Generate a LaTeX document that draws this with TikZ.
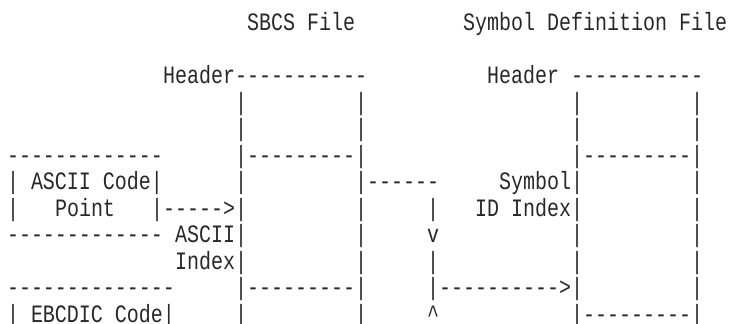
\documentclass[tikz,border=0pt]{standalone}
\usepackage{fontspec}
\usepackage{xcolor}
\usepackage{tikz}
\newfontfamily\asciifont{Liberation Mono}[FakeStretch=0.8]
\definecolor{ink}{RGB}{40, 40, 40}
\tikzset{cell/.style={anchor=base west, inner sep=0pt, outer sep=0pt, text=ink,
    font=\asciifont\fontsize{25}{30}\selectfont}}

\begin{document}
\begin{tikzpicture}[x=12pt, y=-26.5pt]
    \useasboundingbox (0pt, 0pt) rectangle (729pt, -324pt);
    \begin{scope}[shift={(7pt, -30.8pt)}]
    % 标题
    \foreach \c/\t in {20/SBCS File, 38/Symbol Definition File} {
        \node[cell] (r0-\c) at (\c, 0) {\t};
    }

    % Header
    \foreach \c/\t in {13/Header-----------, 40/Header -----------} {
        \node[cell] (r2-\c) at (\c, 2) {\t};
    }
    \foreach \r in {3, 4} {
        \foreach \c in {19, 29, 47, 57} {
            \node[cell] (r\r-\c) at (\c, \r) {|};
        }
    }

    % ASCII Code Point
    \foreach \c/\t in {0/-------------, 19/|---------|, 47/|---------|} {
        \node[cell] (r5-\c) at (\c, 5) {\t};
    }
    \foreach \c/\t in {0/| ASCII Code|, 19/|, 29/|------, 41/Symbol|, 57/|} {
        \node[cell] (r6-\c) at (\c, 6) {\t};
    }
    \foreach \c/\t in {0/|, 4/Point, 12/|----->|, 29/|, 35/|, 39/ID Index|, 57/|} {
        \node[cell] (r7-\c) at (\c, 7) {\t};
    }
    \foreach \c/\t in {0/-------------, 14/ASCII|, 29/|, 35/v, 47/|, 57/|} {
        \node[cell] (r8-\c) at (\c, 8) {\t};
    }
    \foreach \c/\t in {14/Index|, 29/|, 35/|, 47/|, 57/|} {
        \node[cell] (r9-\c) at (\c, 9) {\t};
    }

    % EBCDIC Code Point
    \foreach \c/\t in {0/--------------, 19/|---------|, 35/|---------->|, 57/|} {
        \node[cell] (r10-\c) at (\c, 10) {\t};
    }
    \foreach \c/\t in {0/| EBCDIC Code|, 19/|, 29/|, 35/\textasciicircum, 47/|---------|} {
        \node[cell] (r11-\c) at (\c, 11) {\t};
    }
    \end{scope}
\end{tikzpicture}
\end{document}
